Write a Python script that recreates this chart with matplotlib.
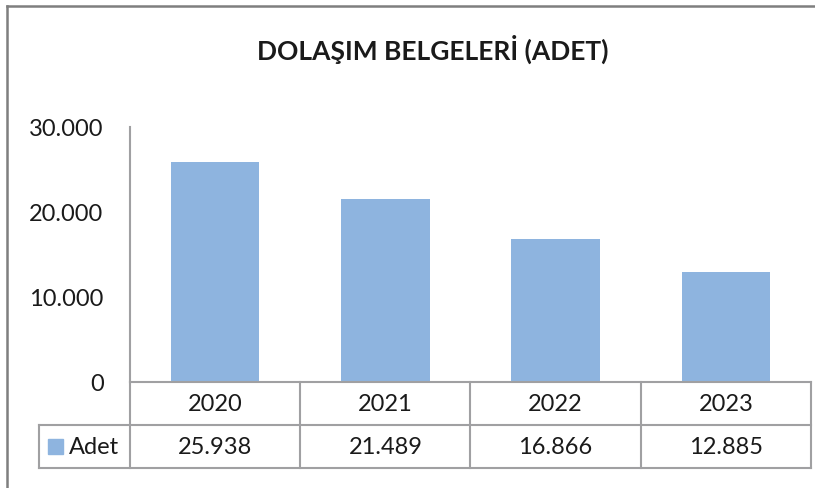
import matplotlib
matplotlib.use('Agg')
import matplotlib.pyplot as plt
from matplotlib.lines import Line2D
from matplotlib.patches import Rectangle

plt.rcParams['font.family'] = ['Lato', 'DejaVu Sans']

years = ['2020', '2021', '2022', '2023']
adet = [25938, 21489, 16866, 12885]
yticks = [0, 10000, 20000, 30000]
ytick_labels = ['0', '10.000', '20.000', '30.000']
series_name = 'Adet'
title = 'DOLAŞIM BELGELERİ (ADET)'

BAR_COLOR = '#8EB4DF'
GRID_GREY = '#A0A0A2'
TEXT = '#1A1A1A'
FS = 17

W, H = 815, 489


def fmt(v):
    return f"{v:,}".replace(',', '.')


fig = plt.figure(figsize=(W / 100, H / 100), dpi=100)
fig.patch.set_facecolor('white')

# plot area in pixel terms: x 130..811, y 128..383
ax = fig.add_axes([130 / W, 1 - 383 / H, (811 - 130) / W, (383 - 128) / H])
x = list(range(len(years)))
ax.bar(x, adet, width=0.52, color=BAR_COLOR, zorder=2)
ax.set_xlim(-0.5, len(years) - 0.5)
ax.set_ylim(0, 30000)
ax.set_yticks(yticks)
ax.set_yticklabels(ytick_labels, fontsize=FS, color=TEXT)
ax.tick_params(axis='y', length=0, pad=19)
ax.set_xticks([])
for s in ['top', 'right']:
    ax.spines[s].set_visible(False)
for s in ['left', 'bottom']:
    ax.spines[s].set_color(GRID_GREY)
    ax.spines[s].set_linewidth(1.5)

# data table under the axis
row_h = 43 / 255 * 30000
unit = (811 - 130) / len(years)
leg_left = -0.5 - (130 - 39) / unit
right = len(years) - 0.5
y1, y2 = -row_h, -2 * row_h
line_kw = dict(color=GRID_GREY, lw=1.5, clip_on=False, zorder=3)

for b in [i - 0.5 for i in range(len(years) + 1)]:
    ax.plot([b, b], [0, y2], **line_kw)
ax.plot([leg_left, right], [y1, y1], **line_kw)
ax.plot([leg_left, right], [y2, y2], **line_kw)
ax.plot([leg_left, leg_left], [y1, y2], **line_kw)

for i, (yr, v) in enumerate(zip(years, adet)):
    ax.text(i, y1 / 2, yr, ha='center', va='center', fontsize=FS, color=TEXT, clip_on=False)
    ax.text(i, (y1 + y2) / 2, fmt(v), ha='center', va='center', fontsize=FS, color=TEXT, clip_on=False)

# legend key inside the table
sq_w = 15 / unit
sq_h = 15 / 255 * 30000
sq_x = -0.5 - (130 - 48) / unit
ax.add_patch(Rectangle((sq_x, (y1 + y2) / 2 - sq_h / 2), sq_w, sq_h,
                       color=BAR_COLOR, clip_on=False))
ax.text(-0.5 - (130 - 69) / unit, (y1 + y2) / 2, series_name, ha='left', va='center',
        fontsize=FS, color=TEXT, clip_on=False)

fig.text(433 / W, 1 - 49 / H, title, ha='center', va='center',
         fontsize=19, fontweight='bold', color=TEXT)

# outer chart frame (top and left visible)
frame_kw = dict(color='#7F7F7F', lw=1.8)
fig.add_artist(Line2D([7 / W, 1], [1 - 7 / H, 1 - 7 / H], transform=fig.transFigure, **frame_kw))
fig.add_artist(Line2D([7 / W, 7 / W], [0, 1 - 7 / H], transform=fig.transFigure, **frame_kw))

fig.savefig('out.png', dpi=100)
